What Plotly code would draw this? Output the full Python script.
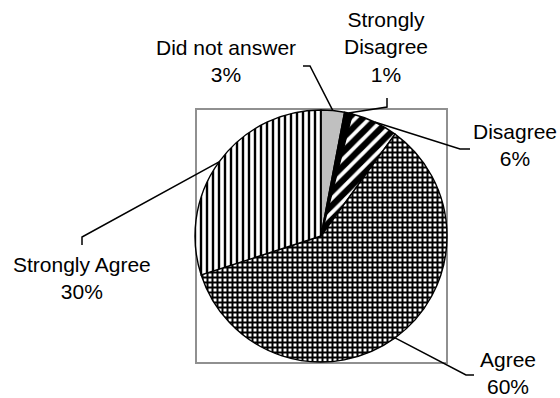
import math
import plotly.graph_objects as go

# Survey responses (percent)
categories = ["Did not answer", "Strongly Disagree", "Disagree", "Agree", "Strongly Agree"]
values = [3, 1, 6, 60, 30]
label_lines = ["Did not answer", "Strongly<br>Disagree", "Disagree", "Agree", "Strongly Agree"]

W, H = 560, 398
CX, CY, R = 321, 236, 126  # pie centre and radius in pixels

# Fill styles for each slice
fill_bg = ["#c0c0c0", "#000000", "#ffffff", "#ffffff", "#ffffff"]
pattern_shapes = ["", "", "/", "+", "|"]
pattern_sizes = [8, 8, 10, 5, 6]
pattern_solidity = [0.3, 0.3, 0.62, 0.64, 0.4]

# Text anchor (centre of the label block) and leader-line elbow for each slice
label_pos = {
    "Did not answer": (226, 61),
    "Strongly Disagree": (386, 47),
    "Disagree": (515, 145),
    "Agree": (508, 373),
    "Strongly Agree": (82, 278),
}
elbows = {
    "Did not answer": [(303, 66), (310, 66)],
    "Strongly Disagree": [(387, 98), (387, 107)],
    "Disagree": [(470, 149), (460, 149)],
    "Agree": [(474, 375), (466, 375)],
    "Strongly Agree": [(82, 245), (82, 237)],
}


def px(x):
    return x / W


def py(y):
    return 1 - y / H


fig = go.Figure(
    go.Pie(
        labels=categories,
        values=values,
        sort=False,
        direction="clockwise",
        rotation=0,
        textinfo="none",
        hoverinfo="skip",
        showlegend=False,
        domain=dict(x=[px(CX - R), px(CX + R)], y=[py(CY + R), py(CY - R)]),
        marker=dict(
            colors=fill_bg,
            line=dict(color="black", width=1.4),
            pattern=dict(
                shape=pattern_shapes,
                size=pattern_sizes,
                solidity=pattern_solidity,
                fgcolor="black",
                fgopacity=1,
                bgcolor=fill_bg,
                fillmode="overlay",
            ),
        ),
    )
)

shapes = [
    dict(
        type="rect", xref="paper", yref="paper", layer="below",
        x0=px(196), x1=px(447), y0=py(363), y1=py(109),
        line=dict(color="#909090", width=2), fillcolor="rgba(0,0,0,0)",
    )
]
annotations = []

total = sum(values)
cum = 0
for name, val, txt in zip(categories, values, label_lines):
    mid = (cum + val / 2) / total * 2 * math.pi
    cum += val
    ex = CX + R * math.sin(mid)
    ey = CY - R * math.cos(mid)
    pts = elbows[name] + [(ex, ey)]
    path = "M " + " L ".join(f"{px(x)},{py(y)}" for x, y in pts)
    shapes.append(dict(type="path", xref="paper", yref="paper", path=path,
                       line=dict(color="black", width=1.5)))
    pct = round(val / total * 100)
    lx, ly = label_pos[name]
    annotations.append(dict(
        x=px(lx), y=py(ly), xref="paper", yref="paper",
        text=f"{txt}<br>{pct}%", showarrow=False,
        xanchor="center", yanchor="middle", align="center",
        font=dict(family="Liberation Sans, Arial", size=21, color="black"),
    ))

fig.update_layout(
    width=W, height=H,
    margin=dict(l=0, r=0, t=0, b=0),
    paper_bgcolor="white", plot_bgcolor="white",
    shapes=shapes, annotations=annotations,
)

fig.write_html("out.html")
